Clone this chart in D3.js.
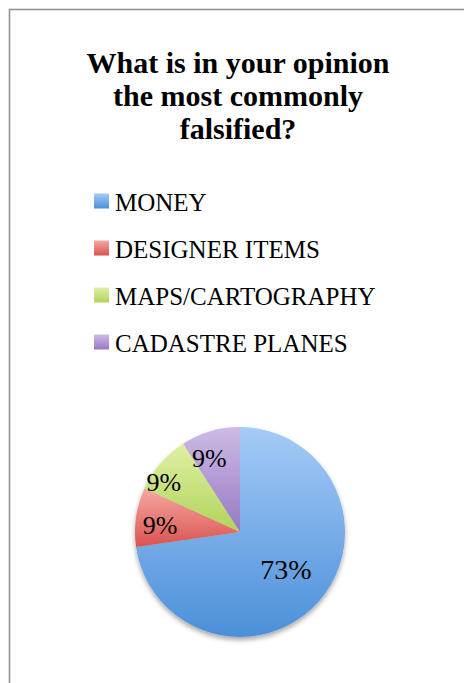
<!DOCTYPE html>
<html>
<head>
<meta charset="utf-8">
<script src="https://cdn.jsdelivr.net/npm/d3@7"></script>
<style>
  body { margin: 0; background: #fff; }
  svg { display: block; }
</style>
</head>
<body>
<div id="chart"></div>
<script>
(function() {
  var width = 464, height = 683

  // data
  var titleLines = ["What is in your opinion", "the most commonly", "falsified?"]
  var categories = ["MONEY", "DESIGNER ITEMS", "MAPS/CARTOGRAPHY", "CADASTRE PLANES"]
  var counts = [8, 1, 1, 1]
  var percentLabels = ["73%", "9%", "9%", "9%"]

  // light (top) / dark (bottom) gradient stops per slice
  var topColors = ["#a6cbf6", "#f6a8a4", "#def0a4", "#cdbbe6"]
  var bottomColors = ["#4b8fd9", "#d9534e", "#b2d35a", "#9779c2"]

  // nudges for the data labels, like Excel's best-fit placement
  var labelNudge = [[0, -3], [0, 4], [-15, 3], [-8, 3]]

  var fontFamily = "'Liberation Serif', 'DejaVu Serif', serif"

  var svg = d3.select("#chart")
    .append("svg")
    .attr("width", width)
    .attr("height", height)

  var defs = svg.append("defs")

  categories.forEach(function(c, i) {
    var g = defs.append("linearGradient")
      .attr("id", "grad-" + i)
      .attr("x1", 0).attr("y1", 0).attr("x2", 0).attr("y2", 1)
    g.append("stop").attr("offset", "0%").attr("stop-color", topColors[i])
    g.append("stop").attr("offset", "100%").attr("stop-color", bottomColors[i])
  })

  var shadow = defs.append("filter")
    .attr("id", "shadow")
    .attr("x", "-20%").attr("y", "-20%")
    .attr("width", "140%").attr("height", "140%")
  shadow.append("feDropShadow")
    .attr("dx", 0).attr("dy", 3)
    .attr("stdDeviation", 2.5)
    .attr("flood-color", "#000")
    .attr("flood-opacity", 0.35)

  // chart frame (cropped at right and bottom)
  svg.append("rect")
    .attr("x", 9.5).attr("y", 9.5)
    .attr("width", width + 20).attr("height", height + 20)
    .attr("fill", "#fff")
    .attr("stroke", "#949494")
    .attr("stroke-width", 1.6)

  // title
  svg.append("text")
    .attr("class", "title")
    .attr("text-anchor", "middle")
    .attr("font-family", fontFamily)
    .attr("font-weight", "bold")
    .attr("font-size", 30)
    .attr("fill", "#000")
    .selectAll("tspan")
    .data(titleLines)
    .enter().append("tspan")
    .attr("x", 238)
    .attr("y", function(d, i) { return 73 + i * 33 })
    .text(function(d) { return d })

  // legend
  var legendY = d3.scaleBand()
    .domain(categories)
    .range([178, 366])

  var legend = svg.append("g").attr("class", "legend")
    .selectAll("g")
    .data(categories)
    .enter().append("g")
    .attr("transform", function(d) {
      return "translate(94," + (legendY(d) + legendY.bandwidth() / 2) + ")"
    })

  legend.append("rect")
    .attr("x", 0).attr("y", -8)
    .attr("width", 15).attr("height", 15)
    .attr("fill", function(d, i) { return "url(#grad-" + i + ")" })

  legend.append("text")
    .attr("x", 21)
    .attr("y", 9)
    .attr("font-family", fontFamily)
    .attr("font-size", 25)
    .attr("fill", "#000")
    .text(function(d) { return d })

  // pie
  var cx = 240, cy = 532, radius = 105

  var pie = d3.pie().sort(null).value(function(d) { return d })
  var arc = d3.arc().innerRadius(0).outerRadius(radius)
  var labelArcs = [
    d3.arc().innerRadius(radius * 0.58).outerRadius(radius * 0.58),
    d3.arc().innerRadius(radius * 0.77).outerRadius(radius * 0.77)
  ]

  var pieG = svg.append("g")
    .attr("transform", "translate(" + cx + "," + cy + ")")

  var slices = pie(counts)

  pieG.append("g")
    .attr("filter", "url(#shadow)")
    .selectAll("path")
    .data(slices)
    .enter().append("path")
    .attr("d", arc)
    .attr("fill", function(d, i) { return "url(#grad-" + i + ")" })

  pieG.selectAll(".pct")
    .data(slices)
    .enter().append("text")
    .attr("class", "pct")
    .attr("transform", function(d, i) {
      var c = labelArcs[i === 0 ? 0 : 1].centroid(d)
      return "translate(" + (c[0] + labelNudge[i][0]) + "," + (c[1] + labelNudge[i][1]) + ")"
    })
    .attr("dy", "0.35em")
    .attr("text-anchor", "middle")
    .attr("font-family", fontFamily)
    .attr("font-size", function(d, i) { return i === 0 ? 28 : 26 })
    .attr("fill", "#000")
    .text(function(d, i) { return percentLabels[i] })
})();
</script>
</body>
</html>
